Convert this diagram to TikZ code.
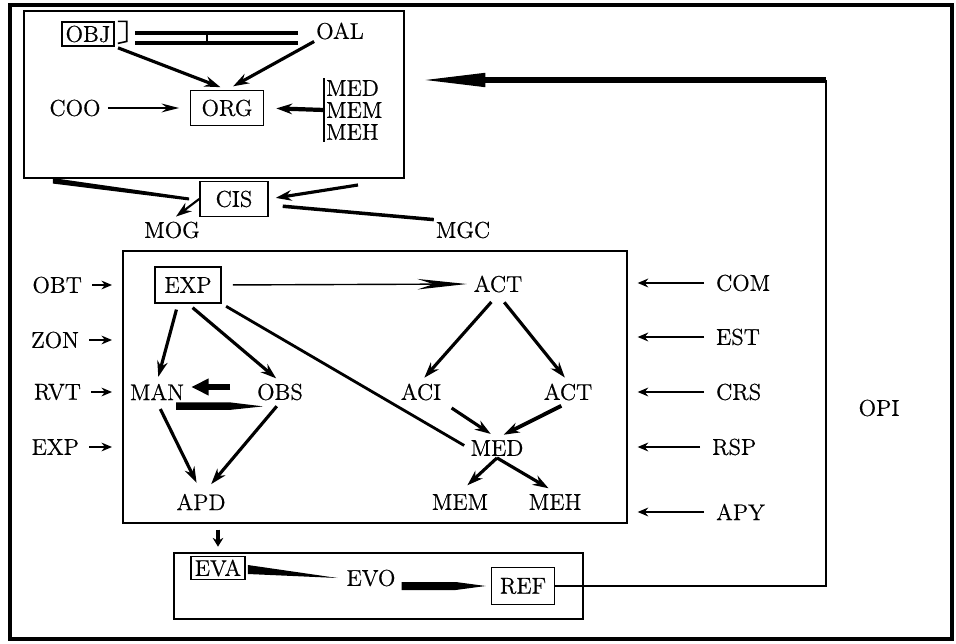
\documentclass[tikz,border=0pt]{standalone}
\usepackage{fontspec}
\newfontfamily\heavy{Latin Modern Roman}[FakeBold=0.6]
\usetikzlibrary{arrows.meta}
\begin{document}
\begin{tikzpicture}[x=0.02cm,y=-0.02cm,>={Stealth[length=9pt,width=6pt]},font=\heavy\fontsize{13}{12.5}\selectfont,
every node/.style={inner sep=1pt},
box/.style={draw,line width=0.9pt,inner sep=2pt},
frame/.style={draw,line width=1pt,anchor=north west,inner sep=0pt},
link/.style={->,line width=1.8pt},
feed/.style={->,line width=0.8pt,>={Stealth[length=6pt,width=5pt]}}]
\useasboundingbox (0,0) rectangle (956,644);
\draw[line width=2pt] (10,5) rectangle (952,639);
\node[frame,line width=1.2pt,minimum width=7.6cm,minimum height=3.34cm] (topbox) at (23,10) {};
\node[frame,minimum width=10.08cm,minimum height=5.44cm] (midbox) at (122,250) {};
\node[frame,minimum width=8.18cm,minimum height=1.32cm] (botbox) at (173,552) {};
\node[box,minimum width=1.04cm,minimum height=0.44cm] (obj) at (88,34) {OBJ};
\node (oal) at (340,31) {OAL};
\node (coo) at (75,108) {COO};
\node[box,minimum width=1.46cm,minimum height=0.7cm] (org) at (227,108) {ORG};
\node[align=left,anchor=west] (medtop) at (324,110) {MED\\MEM\\MEH};
\draw[line width=0.9pt] ([xshift=0.06cm]obj.north east) -- ++(9,0) -- ++(0,20) -- ++(-9,2);
\coordinate (dla) at (135,33);
\coordinate (dlb) at (298,33);
\draw[line width=2.2pt] (dla) -- (dlb);
\draw[line width=1.8pt] ([yshift=-0.2cm]dla) -- ([yshift=-0.2cm]dlb);
\draw[line width=1pt] (207,33) -- (207,43);
\draw[link,shorten <=2pt,shorten >=4pt] (obj.south east) -- (org.north);
\draw[link,shorten >=4pt] (oal.south west) -- (org.north);
\draw[feed,line width=1pt,>={Stealth[length=10pt,width=5pt]},shorten <=3pt,shorten >=6pt] (coo.east) -- (org.west);
\draw[line width=1.2pt] (medtop.north west) -- (medtop.south west);
\draw[link,line width=2.4pt,shorten >=0.24cm] (medtop.west) -- (org.east);
\node[box,minimum width=1.36cm,minimum height=0.7cm] (cis) at (234,199) {CIS};
\node (mog) at (172,230) {MOG};
\node (mgc) at (463,230) {MGC};
\coordinate (cisin) at (358,185);
\fill ([xshift=0.6cm,yshift=0.02cm]topbox.south west) -- ([xshift=0.6cm,yshift=-0.09cm]topbox.south west) -- ([xshift=-0.2cm,yshift=-0.03cm]cis.west) -- ([xshift=-0.2cm,yshift=0.03cm]cis.west) -- cycle;
\draw[link,line width=1.2pt,shorten >=0.1cm] (cis.west) -- (mog.north);
\draw[link,shorten >=0.14cm] (cisin) -- (cis.east);
\draw[line width=2pt,shorten <=0.28cm] ([yshift=-0.12cm]cis.east) -- (mgc.north west);
\node[anchor=east] (obt) at (84,285) {OBT};
\node[anchor=east] (zon) at (81,340) {ZON};
\node[anchor=east] (rvt) at (83,392) {RVT};
\node[anchor=east] (expin) at (81,447) {EXP};
\foreach \n in {obt,zon,rvt,expin}
  \draw[feed,shorten <=0.16cm,shorten >=0.2cm] (\n.east) -- (\n.east -| midbox.west);
\node[anchor=west] (com) at (714,283) {COM};
\node[anchor=west] (est) at (714,337) {EST};
\node[anchor=west] (crs) at (714,392) {CRS};
\node[anchor=west] (rsp) at (710,447) {RSP};
\node[anchor=west] (apy) at (714,512) {APY};
\foreach \n in {com,est,crs,rsp,apy}
  \draw[feed,line width=1pt,shorten <=0.2cm,shorten >=0.2cm] (\n.west) -- (\n.west -| midbox.east);
\node[box,minimum width=1.32cm,minimum height=0.72cm] (exp) at (188,285) {EXP};
\node (act) at (498,284) {ACT};
\node (man) at (157,392) {MAN};
\node (obs) at (280,392) {OBS};
\node (apd) at (201,502) {APD};
\node (aci) at (421,392) {ACI};
\node (acttwo) at (568,392) {ACT};
\node (med) at (497,448) {MED};
\node (mem) at (460,502) {MEM};
\node (meh) at (555,502) {MEH};
\draw[line width=0.8pt,-{Stealth[length=28pt,width=6pt]},shorten <=0.22cm,shorten >=0.1cm] (exp.east) -- (act.west);
\draw[link,shorten <=0.12cm,shorten >=0.1cm] ([xshift=-0.2cm]exp.south) -- (man.north);
\draw[link,shorten <=0.12cm,shorten >=0.1cm] (exp.south) -- (obs.north);
\draw[line width=1.6pt,shorten <=0.1cm,shorten >=0.1cm] (exp.south east) -- (med.west);
\draw[line width=3pt,-{Triangle[length=10pt,width=9pt]},shorten <=0.5cm,shorten >=0.1cm] ([yshift=0.1cm]obs.west) -- ([yshift=0.1cm]man.east);
\fill ([xshift=-0.2cm]man.south east) -- ([xshift=-0.5cm]obs.south west) -- ([xshift=0.16cm,yshift=-0.08cm]obs.south west) -- ([xshift=-0.5cm,yshift=-0.15cm]obs.south west) -- ([xshift=-0.2cm,yshift=-0.15cm]man.south east) -- cycle;
\draw[link,shorten <=0.15cm,shorten >=0.2cm] (man.south) -- (apd.north);
\draw[link,shorten <=0.1cm,shorten >=0.2cm] (obs.south) -- (apd.70);
\draw[link,shorten <=0.2cm,shorten >=0.1cm] (act.south) -- (aci.north);
\draw[link,shorten <=0.2cm,shorten >=0.1cm] (act.south) -- (acttwo.north);
\draw[link,shorten <=0.2cm,shorten >=0.15cm] (aci.south east) -- (med.north);
\draw[link,line width=2.2pt,shorten <=0.15cm,shorten >=0.15cm] (acttwo.south) -- (med.north);
\draw[link,shorten >=0.2cm] (med.south) -- (mem.north);
\draw[link,shorten >=0.15cm] (med.south) -- (meh.north);
\node[box,minimum width=1.08cm,minimum height=0.46cm,inner sep=1pt] (eva) at (218,568) {EVA};
\node (evo) at (371,578) {EVO};
\node[box,minimum width=1.26cm,minimum height=0.74cm] (ref) at (523,586) {REF};
\node (opi) at (879,408) {OPI};
\draw[->,line width=1.8pt,>={Stealth[length=5pt,width=6pt]},shorten <=0.12cm,shorten >=0.18cm] (eva.north |- midbox.south) -- (eva.north);
\fill ([xshift=0.04cm,yshift=0.06cm]eva.east) -- ([xshift=0.04cm,yshift=-0.12cm]eva.east) -- ([xshift=-0.14cm]evo.west) -- cycle;
\fill ([xshift=-1.78cm,yshift=0.08cm]ref.west) -- ([xshift=-0.7cm,yshift=0.08cm]ref.west) -- ([xshift=-0.1cm]ref.west) -- ([xshift=-0.7cm,yshift=-0.08cm]ref.west) -- ([xshift=-1.78cm,yshift=-0.08cm]ref.west) -- cycle;
\coordinate (turn) at (826,80);
\draw[line width=1.2pt] (ref.east) -| (turn);
\draw[line width=3.8pt,-{Triangle[length=40pt,width=7pt]},shorten >=0.2cm] (turn) -- (turn -| topbox.east);
\end{tikzpicture}
\end{document}
